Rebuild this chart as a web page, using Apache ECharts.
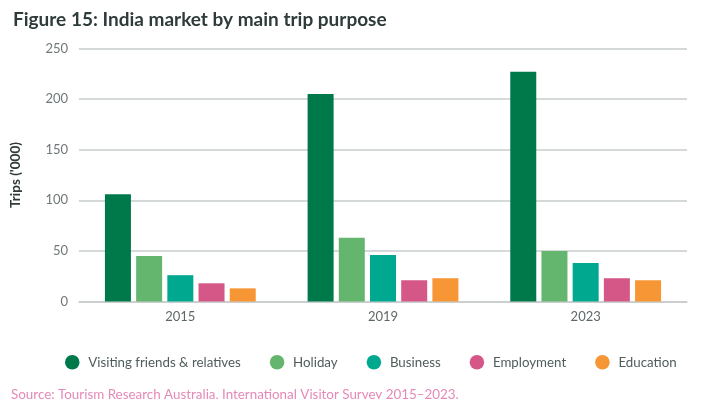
<!DOCTYPE html>
<html>
<head>
<meta charset="utf-8">
<script src="https://cdn.jsdelivr.net/npm/echarts@6/dist/echarts.min.js"></script>
<style>
  html, body { margin: 0; padding: 0; background: #fff; }
  #main { width: 715px; height: 399px; }
</style>
</head>
<body>
<div id="main"></div>
<script>
// data
var years = ['2015', '2019', '2023'];
var purposes = ['Visiting friends & relatives', 'Holiday', 'Business', 'Employment', 'Education'];
var vfr = [106, 205, 227];
var holiday = [45, 63, 50];
var business = [26, 46, 38];
var employment = [18, 21, 23];
var education = [13, 23, 21];
var yTicks = [0, 50, 100, 150, 200, 250];

var colors = ['#00794A', '#64B66F', '#00A890', '#D55788', '#F69634'];
var allValues = [vfr, holiday, business, employment, education];

var chart = echarts.init(document.getElementById('main'));
var font = 'Lato, "Open Sans", sans-serif';

var series = purposes.map(function (name, i) {
  return {
    name: name,
    type: 'bar',
    data: allValues[i],
    barWidth: 26,
    barGap: '20%',
    itemStyle: { color: colors[i] }
  };
});

var option = {
  animation: false,
  textStyle: { fontFamily: font },
  title: [{
    text: 'Figure 15: India market by main trip purpose',
    left: 8, top: 5,
    textStyle: { fontSize: 19, fontWeight: 'bold', color: '#2f3b3b', fontFamily: font }
  }, {
    text: 'Source: Tourism Research Australia, International Visitor Survey 2015–2023.',
    left: 6, top: 383,
    textStyle: { fontSize: 13.4, fontWeight: 'normal', color: '#E58AB8', fontFamily: font }
  }],
  legend: {
    data: purposes,
    left: 60, top: 350,
    icon: 'circle',
    itemWidth: 22, itemHeight: 14.5,
    itemGap: 29,
    textStyle: { fontSize: 13.3, color: '#4f5c5c', fontFamily: font }
  },
  grid: { left: 79, right: 28, top: 48.5, bottom: 97.5 },
  xAxis: {
    type: 'category',
    data: years,
    axisTick: { show: false },
    axisLine: { lineStyle: { color: '#c8cccc', width: 1.5 } },
    axisLabel: { fontSize: 13, color: '#5f6868', margin: 9, fontFamily: font }
  },
  yAxis: {
    type: 'value',
    min: yTicks[0], max: yTicks[yTicks.length - 1], interval: 50,
    name: "Trips ('000)",
    nameLocation: 'middle',
    nameGap: 56,
    nameTextStyle: { fontSize: 13.5, fontWeight: 'bold', color: '#2f3b3b', fontFamily: font },
    axisLine: { show: false },
    axisTick: { show: false },
    axisLabel: { fontSize: 13, color: '#6f7878', margin: 11, fontFamily: font },
    splitLine: { lineStyle: { color: '#c8cccc', width: 1.5 } }
  },
  series: series
};
chart.setOption(option);
</script>
</body>
</html>
